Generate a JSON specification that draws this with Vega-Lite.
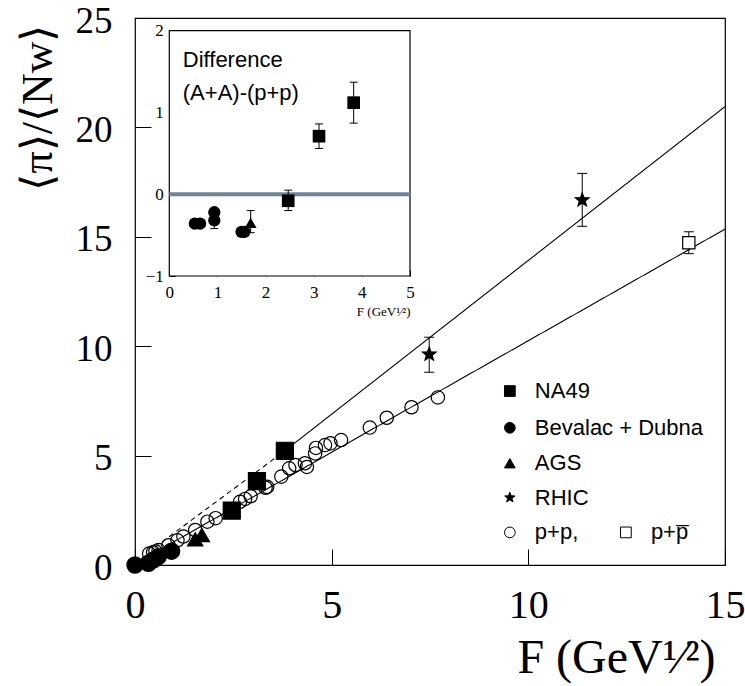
{
  "$schema": "https://vega.github.io/schema/vega-lite/v6.json",
  "width": 590,
  "height": 547,
  "autosize": {"type": "none"},
  "padding": {"left": 135, "top": 18, "right": 20, "bottom": 121},
  "background": "white",
  "config": {
    "view": {"stroke": "black", "strokeWidth": 1.2},
    "axis": {"grid": false, "labelColor": "black", "tickColor": "black", "titleColor": "black", "labelFlush": false, "labelOverlap": false, "tickWidth": 1}
  },
  "datasets": {
    "main": [
      {"F": 0, "R": 0, "group": "Bevalac + Dubna"},
      {"F": 0.34, "R": 0.08, "group": "Bevalac + Dubna"},
      {"F": 0.47, "R": 0.23, "group": "Bevalac + Dubna"},
      {"F": 0.59, "R": 0.38, "group": "Bevalac + Dubna"},
      {"F": 0.93, "R": 0.63, "group": "Bevalac + Dubna"},
      {"F": 0.36, "R": 0.52, "group": "p+p"},
      {"F": 0.46, "R": 0.58, "group": "p+p"},
      {"F": 0.52, "R": 0.62, "group": "p+p"},
      {"F": 0.6, "R": 0.68, "group": "p+p"},
      {"F": 0.85, "R": 0.9, "group": "p+p"},
      {"F": 1.08, "R": 1.13, "group": "p+p"},
      {"F": 1.23, "R": 1.3, "group": "p+p"},
      {"F": 1.53, "R": 1.6, "group": "p+p"},
      {"F": 1.84, "R": 1.98, "group": "p+p"},
      {"F": 2.05, "R": 2.14, "group": "p+p"},
      {"F": 2.67, "R": 2.89, "group": "p+p"},
      {"F": 2.8, "R": 3.02, "group": "p+p"},
      {"F": 2.94, "R": 3.14, "group": "p+p"},
      {"F": 3.32, "R": 3.53, "group": "p+p"},
      {"F": 3.36, "R": 3.57, "group": "p+p"},
      {"F": 3.72, "R": 4.04, "group": "p+p"},
      {"F": 3.92, "R": 4.42, "group": "p+p"},
      {"F": 4.08, "R": 4.57, "group": "p+p"},
      {"F": 4.32, "R": 4.65, "group": "p+p"},
      {"F": 4.37, "R": 4.48, "group": "p+p"},
      {"F": 4.58, "R": 5.1, "group": "p+p"},
      {"F": 4.6, "R": 5.35, "group": "p+p"},
      {"F": 4.83, "R": 5.48, "group": "p+p"},
      {"F": 4.97, "R": 5.56, "group": "p+p"},
      {"F": 5.24, "R": 5.71, "group": "p+p"},
      {"F": 5.97, "R": 6.28, "group": "p+p"},
      {"F": 6.4, "R": 6.73, "group": "p+p"},
      {"F": 7.03, "R": 7.21, "group": "p+p"},
      {"F": 7.7, "R": 7.66, "group": "p+p"},
      {"F": 1.53, "R": 1.17, "group": "AGS"},
      {"F": 1.7, "R": 1.37, "group": "AGS"},
      {"F": 2.46, "R": 2.49, "group": "NA49"},
      {"F": 3.1, "R": 3.83, "group": "NA49"},
      {"F": 3.81, "R": 5.22, "group": "NA49"},
      {"F": 7.48, "R": 9.63, "group": "RHIC", "lo": 8.81, "hi": 10.41},
      {"F": 11.37, "R": 16.68, "group": "RHIC", "lo": 15.48, "hi": 17.9},
      {"F": 14.08, "R": 14.73, "group": "p+pbar", "lo": 14.23, "hi": 15.23}
    ],
    "lines": [
      {"F": 3.81, "R": 5.22, "line": "A+A fit"},
      {"F": 15, "R": 20.95, "line": "A+A fit"},
      {"F": 0.5, "R": 0.8, "line": "A+A extrapolation"},
      {"F": 3.81, "R": 5.22, "line": "A+A extrapolation"},
      {"F": 0.3, "R": 0.36, "line": "p+p fit"},
      {"F": 15, "R": 15.35, "line": "p+p fit"}
    ],
    "legend": [
      {"F": 9.53, "R": 7.95, "group": "NA49", "label": "NA49"},
      {"F": 9.53, "R": 6.27, "group": "Bevalac + Dubna", "label": "Bevalac + Dubna"},
      {"F": 9.53, "R": 4.65, "group": "AGS", "label": "AGS"},
      {"F": 9.53, "R": 3.08, "group": "RHIC", "label": "RHIC"},
      {"F": 9.53, "R": 1.49, "group": "p+p", "label": "p+p,"},
      {"F": 12.48, "R": 1.49, "group": "p+pbar", "label": "p+p\u0305"}
    ],
    "inset": [
      {"F": 0.53, "D": -0.36, "group": "Bevalac + Dubna"},
      {"F": 0.64, "D": -0.36, "group": "Bevalac + Dubna"},
      {"F": 0.935, "D": -0.22, "group": "Bevalac + Dubna"},
      {"F": 0.935, "D": -0.32, "group": "Bevalac + Dubna", "lo": -0.42, "hi": -0.32},
      {"F": 1.5, "D": -0.46, "group": "Bevalac + Dubna"},
      {"F": 1.56, "D": -0.46, "group": "Bevalac + Dubna"},
      {"F": 1.69, "D": -0.35, "group": "AGS", "lo": -0.47, "hi": -0.2},
      {"F": 2.47, "D": -0.08, "group": "NA49", "lo": -0.2, "hi": 0.05},
      {"F": 3.11, "D": 0.71, "group": "NA49", "lo": 0.56, "hi": 0.86},
      {"F": 3.83, "D": 1.12, "group": "NA49", "lo": 0.87, "hi": 1.37}
    ]
  },
  "layer": [
    {
      "layer": [
        {
          "data": {"name": "lines"},
          "mark": {"type": "line", "color": "black", "strokeWidth": 1.1},
          "encoding": {
            "x": {"field": "F", "type": "quantitative", "scale": {"domain": [0, 15], "nice": false, "zero": false}},
            "y": {"field": "R", "type": "quantitative", "scale": {"domain": [0, 25], "nice": false, "zero": false}},
            "detail": {"field": "line", "type": "nominal"},
            "strokeDash": {"field": "line", "type": "nominal", "scale": {"domain": ["A+A fit", "A+A extrapolation", "p+p fit"], "range": [[1, 0], [5, 4], [1, 0]]}, "legend": null}
          }
        },
        {
          "data": {"name": "main"},
          "transform": [{"filter": "isValid(datum.lo)"}],
          "mark": {"type": "rule", "color": "black", "strokeWidth": 1},
          "encoding": {
            "x": {"field": "F", "type": "quantitative", "scale": {"domain": [0, 15], "nice": false, "zero": false}},
            "y": {"field": "lo", "type": "quantitative", "scale": {"domain": [0, 25], "nice": false, "zero": false}},
            "y2": {"field": "hi"}
          }
        },
        {
          "data": {"name": "main"},
          "transform": [{"filter": "isValid(datum.lo)"}],
          "mark": {"type": "tick", "orient": "horizontal", "color": "black", "size": 10, "thickness": 1, "opacity": 1},
          "encoding": {
            "x": {"field": "F", "type": "quantitative", "scale": {"domain": [0, 15], "nice": false, "zero": false}},
            "y": {"field": "lo", "type": "quantitative", "scale": {"domain": [0, 25], "nice": false, "zero": false}}
          }
        },
        {
          "data": {"name": "main"},
          "transform": [{"filter": "isValid(datum.hi)"}],
          "mark": {"type": "tick", "orient": "horizontal", "color": "black", "size": 10, "thickness": 1, "opacity": 1},
          "encoding": {
            "x": {"field": "F", "type": "quantitative", "scale": {"domain": [0, 15], "nice": false, "zero": false}},
            "y": {"field": "hi", "type": "quantitative", "scale": {"domain": [0, 25], "nice": false, "zero": false}}
          }
        },
        {
          "data": {"name": "main"},
          "mark": {"type": "point", "filled": true, "stroke": "black", "strokeWidth": 1.2, "opacity": 1},
          "encoding": {
            "x": {
              "field": "F", "type": "quantitative",
              "scale": {"domain": [0, 15], "nice": false, "zero": false},
              "axis": {
                "values": [0, 5, 10, 15], "offset": -16, "tickSize": 16, "domain": false,
                "labelFont": "Liberation Serif", "labelFontSize": 40, "labelPadding": 20,
                "title": "F (GeV¹⁄²)", "titleFont": "Liberation Serif", "titleFontSize": 48, "titleFontWeight": "normal",
                "titleX": 580, "titleY": 123, "titleAlign": "right", "titleBaseline": "alphabetic"
              }
            },
            "y": {
              "field": "R", "type": "quantitative",
              "scale": {"domain": [0, 25], "nice": false, "zero": false},
              "axis": {
                "values": [0, 5, 10, 15, 20, 25], "offset": -16, "tickSize": 16, "domain": false,
                "labelFont": "Liberation Serif", "labelFontSize": 37, "labelPadding": 23, "labelOffset": 3,
                "title": "⟨π⟩/⟨Nw⟩", "titleFont": "Liberation Serif", "titleFontSize": 44, "titleFontWeight": "normal",
                "titleAngle": 270, "titleX": -113, "titleY": 89, "titleAlign": "center", "titleBaseline": "middle"
              }
            },
            "shape": {"field": "group", "type": "nominal", "legend": null,
              "scale": {"domain": ["NA49", "Bevalac + Dubna", "AGS", "RHIC", "p+p", "p+pbar"],
                "range": ["square", "circle", "triangle-up", "M0,-1L0.247,-0.34L0.951,-0.309L0.399,0.13L0.588,0.809L0,0.42L-0.588,0.809L-0.399,0.13L-0.951,-0.309L-0.247,-0.34Z", "circle", "square"]}},
            "fill": {"field": "group", "type": "nominal", "legend": null,
              "scale": {"domain": ["NA49", "Bevalac + Dubna", "AGS", "RHIC", "p+p", "p+pbar"],
                "range": ["black", "black", "black", "black", "transparent", "white"]}},
            "size": {"field": "group", "type": "nominal", "legend": null,
              "scale": {"domain": ["NA49", "Bevalac + Dubna", "AGS", "RHIC", "p+p", "p+pbar"],
                "range": [290, 150, 170, 340, 200, 165]}}
          }
        },
        {
          "data": {"name": "legend"},
          "mark": {"type": "point", "filled": true, "stroke": "black", "strokeWidth": 1, "opacity": 1, "size": 115},
          "encoding": {
            "x": {"field": "F", "type": "quantitative", "scale": {"domain": [0, 15], "nice": false, "zero": false}},
            "y": {"field": "R", "type": "quantitative", "scale": {"domain": [0, 25], "nice": false, "zero": false}},
            "shape": {"field": "group", "type": "nominal", "legend": null},
            "fill": {"field": "group", "type": "nominal", "legend": null}
          }
        },
        {
          "data": {"name": "legend"},
          "mark": {"type": "text", "align": "left", "baseline": "middle", "dx": 25, "font": "Liberation Sans", "fontSize": 22, "color": "black"},
          "encoding": {
            "x": {"field": "F", "type": "quantitative", "scale": {"domain": [0, 15], "nice": false, "zero": false}},
            "y": {"field": "R", "type": "quantitative", "scale": {"domain": [0, 25], "nice": false, "zero": false}},
            "text": {"field": "label"}
          }
        }
      ]
    },
    {
      "layer": [
        {
          "data": {"values": [{}]},
          "mark": {"type": "rect", "fill": "white", "stroke": "black", "strokeWidth": 1.2},
          "encoding": {
            "x": {"datum": 0, "type": "quantitative", "scale": {"domain": [0, 5], "range": [34.3, 275], "nice": false, "zero": false}},
            "x2": {"datum": 5},
            "y": {"datum": -1, "type": "quantitative", "scale": {"domain": [-1, 2], "range": [258, 12.7], "nice": false, "zero": false}},
            "y2": {"datum": 2}
          }
        },
        {
          "data": {"values": [{}]},
          "mark": {"type": "rule", "color": "#6f8496", "strokeWidth": 4},
          "encoding": {
            "x": {"datum": 0, "type": "quantitative", "scale": {"domain": [0, 5], "range": [34.3, 275], "nice": false, "zero": false}},
            "x2": {"datum": 5},
            "y": {"datum": 0, "type": "quantitative", "scale": {"domain": [-1, 2], "range": [258, 12.7], "nice": false, "zero": false}}
          }
        },
        {
          "data": {"values": [{}]},
          "mark": {"type": "text", "align": "left", "baseline": "alphabetic", "font": "Liberation Sans", "fontSize": 22, "lineHeight": 33, "color": "black", "text": ["Difference", "(A+A)-(p+p)"]},
          "encoding": {
            "x": {"datum": 0.28, "type": "quantitative", "scale": {"domain": [0, 5], "range": [34.3, 275], "nice": false, "zero": false}},
            "y": {"datum": 1.56, "type": "quantitative", "scale": {"domain": [-1, 2], "range": [258, 12.7], "nice": false, "zero": false}}
          }
        },
        {
          "data": {"name": "inset"},
          "transform": [{"filter": "isValid(datum.lo)"}],
          "mark": {"type": "rule", "color": "black", "strokeWidth": 1},
          "encoding": {
            "x": {"field": "F", "type": "quantitative", "scale": {"domain": [0, 5], "range": [34.3, 275], "nice": false, "zero": false}},
            "y": {"field": "lo", "type": "quantitative", "scale": {"domain": [-1, 2], "range": [258, 12.7], "nice": false, "zero": false}},
            "y2": {"field": "hi"}
          }
        },
        {
          "data": {"name": "inset"},
          "transform": [{"filter": "isValid(datum.lo)"}],
          "mark": {"type": "tick", "orient": "horizontal", "color": "black", "size": 8, "thickness": 1, "opacity": 1},
          "encoding": {
            "x": {"field": "F", "type": "quantitative", "scale": {"domain": [0, 5], "range": [34.3, 275], "nice": false, "zero": false}},
            "y": {"field": "lo", "type": "quantitative", "scale": {"domain": [-1, 2], "range": [258, 12.7], "nice": false, "zero": false}}
          }
        },
        {
          "data": {"name": "inset"},
          "transform": [{"filter": "isValid(datum.hi)"}],
          "mark": {"type": "tick", "orient": "horizontal", "color": "black", "size": 8, "thickness": 1, "opacity": 1},
          "encoding": {
            "x": {"field": "F", "type": "quantitative", "scale": {"domain": [0, 5], "range": [34.3, 275], "nice": false, "zero": false}},
            "y": {"field": "hi", "type": "quantitative", "scale": {"domain": [-1, 2], "range": [258, 12.7], "nice": false, "zero": false}}
          }
        },
        {
          "data": {"name": "inset"},
          "mark": {"type": "point", "filled": true, "color": "black", "opacity": 1},
          "encoding": {
            "x": {
              "field": "F", "type": "quantitative",
              "scale": {"domain": [0, 5], "range": [34.3, 275], "nice": false, "zero": false},
              "axis": {
                "orient": "bottom", "offset": -295, "values": [0, 1, 2, 3, 4, 5], "format": "d", "tickSize": 6, "domain": false,
                "labelFont": "Liberation Serif", "labelFontSize": 17, "labelPadding": 8,
                "title": "F (GeV¹⁄²)", "titleFont": "Liberation Serif", "titleFontSize": 13, "titleFontWeight": "normal",
                "titleX": 275, "titleY": 45, "titleAlign": "right", "titleBaseline": "alphabetic"
              }
            },
            "y": {
              "field": "D", "type": "quantitative",
              "scale": {"domain": [-1, 2], "range": [258, 12.7], "nice": false, "zero": false},
              "axis": {
                "orient": "left", "offset": -40.3, "values": [-1, 0, 1, 2], "format": "d", "tickSize": 6, "domain": false,
                "labelFont": "Liberation Serif", "labelFontSize": 17, "labelPadding": 6, "title": null
              }
            },
            "shape": {"field": "group", "type": "nominal", "legend": null,
              "scale": {"domain": ["NA49", "Bevalac + Dubna", "AGS"], "range": ["square", "circle", "triangle-up"]}},
            "size": {"field": "group", "type": "nominal", "legend": null,
              "scale": {"domain": ["NA49", "Bevalac + Dubna", "AGS"], "range": [160, 140, 110]}}
          }
        }
      ]
    }
  ],
  "resolve": {"scale": {"x": "independent", "y": "independent", "shape": "independent", "size": "independent", "fill": "independent"}}
}
